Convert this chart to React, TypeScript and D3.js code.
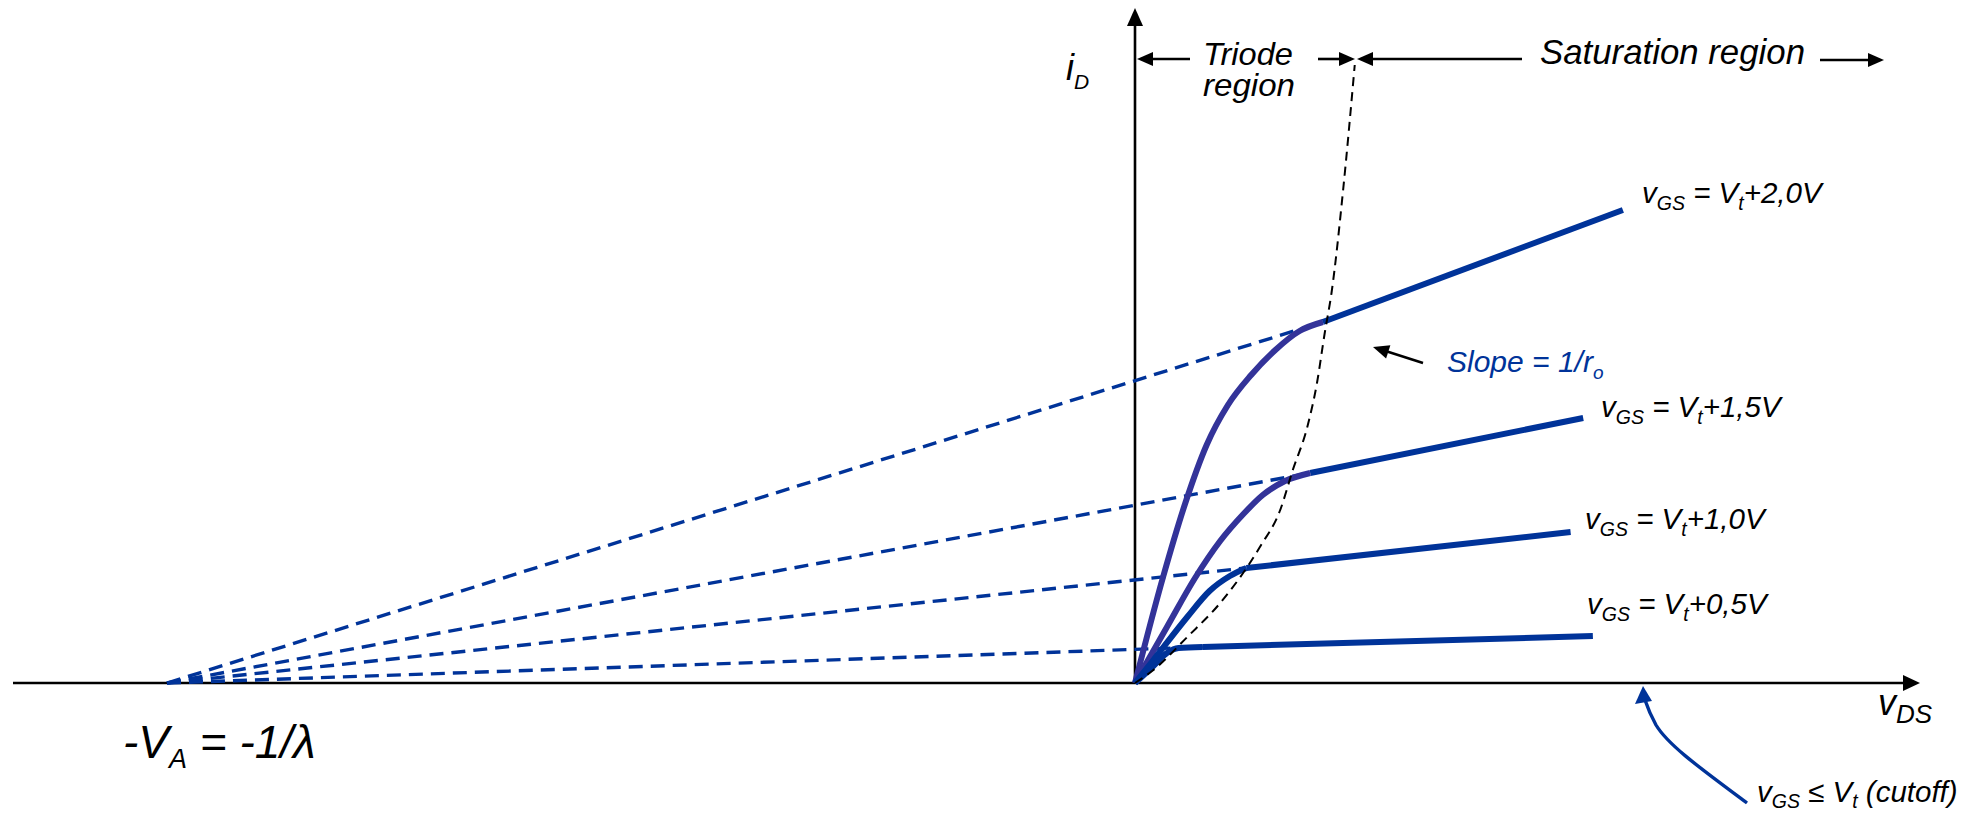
import React from "react";
import * as d3 from "d3";

// Early voltage (the extrapolated saturation lines meet the v_DS axis at -V_A)
const VA = 10;

// Overdrive labels for the four gate voltages, top curve first
const overdriveLabels = ["2,0", "1,5", "1,0", "0,5"];

// Triode-region traces (v_DS, i_D); each ends at its knee where saturation starts
const triode20: [number, number][] = [[0, 0], [0.29, 1.06], [0.52, 1.8], [0.74, 2.38], [0.96, 2.78], [1.2, 3.08], [1.45, 3.33], [1.7, 3.52], [1.94, 3.61]];
const triode15: [number, number][] = [[0, 0], [0.33, 0.56], [0.62, 1.05], [0.88, 1.42], [1.12, 1.69], [1.32, 1.88], [1.55, 2.02], [1.81, 2.1]];
const triode10: [number, number][] = [[0, 0], [0.19, 0.23], [0.54, 0.66], [0.77, 0.92], [0.98, 1.07], [1.15, 1.15]];
const triode05: [number, number][] = [[0, 0], [0.19, 0.17], [0.33, 0.3], [0.45, 0.35], [0.7, 0.36]];

// Right-hand end of each saturation line (v_DS, i_D)
const saturationEnds: [number, number][] = [[5.04, 4.73], [4.63, 2.65], [4.5, 1.51], [4.73, 0.47]];

// Boundary v_DS = v_OV between triode and saturation
const edgeOfSaturation: [number, number][] = [[0, 0], [0.19, 0.13], [0.54, 0.46], [0.88, 0.8], [1.29, 1.36], [1.5, 1.73], [1.63, 2.13], [1.78, 2.56], [1.88, 3.0], [1.96, 3.5], [2.03, 3.9], [2.15, 4.93], [2.27, 6.18]];

const triodeCurves = [triode20, triode15, triode10, triode05];

const BLUE = "#003399";
const PURPLE = "#333399";
const triodeColors = [PURPLE, PURPLE, BLUE, BLUE];
const FONT = "'Liberation Sans', Arial, Helvetica, sans-serif";

// label anchor (x, baseline) per curve, top curve first
const labelPos = [[1642, 203], [1601, 417], [1585, 529], [1587, 614]];

const x = d3.scaleLinear().domain([-VA, 0]).range([167, 1135]);
const y = d3.scaleLinear().domain([0, 1]).range([683, 583]);

const smooth = d3
  .line<[number, number]>()
  .x((d) => x(d[0]))
  .y((d) => y(d[1]))
  .curve(d3.curveMonotoneX);

const straight = d3
  .line<[number, number]>()
  .x((d) => x(d[0]))
  .y((d) => y(d[1]));

function Arrow({ x1, y1, x2, y2, color = "#000", width = 2.6, head = 16, half = 7 }: any) {
  const ang = Math.atan2(y2 - y1, x2 - x1);
  const bx = x2 - head * Math.cos(ang);
  const by = y2 - head * Math.sin(ang);
  const px = -Math.sin(ang) * half;
  const py = Math.cos(ang) * half;
  return (
    <g>
      <line x1={x1} y1={y1} x2={bx + 2 * Math.cos(ang)} y2={by + 2 * Math.sin(ang)} stroke={color} strokeWidth={width} />
      <polygon points={`${x2},${y2} ${bx + px},${by + py} ${bx - px},${by - py}`} fill={color} />
    </g>
  );
}

export default function App() {
  const origin = { x: x(0), y: y(0) };
  return (
    <svg
      width={1986}
      height={813}
      style={{ position: "absolute", left: 0, top: 0, background: "#fff" }}
      fontFamily={FONT}
      fontStyle="italic"
    >
      {/* axes */}
      <line x1={13} y1={origin.y} x2={1905} y2={origin.y} stroke="#000" strokeWidth={2.6} />
      <polygon points={`1920,${origin.y} 1903,${origin.y - 8} 1903,${origin.y + 8}`} fill="#000" />
      <line x1={origin.x} y1={origin.y} x2={origin.x} y2={22} stroke="#000" strokeWidth={2.6} />
      <polygon points={`${origin.x},8 ${origin.x - 8},26 ${origin.x + 8},26`} fill="#000" />

      {/* extrapolated saturation lines back to -V_A */}
      {triodeCurves.map((c, i) => (
        <path
          key={`ext${i}`}
          d={straight([[-VA, 0], c[c.length - 1]]) || ""}
          fill="none"
          stroke={BLUE}
          strokeWidth={3.4}
          strokeDasharray="14 8"
        />
      ))}

      {/* saturation lines */}
      {triodeCurves.map((c, i) => (
        <path
          key={`sat${i}`}
          d={straight([c[c.length - 1], saturationEnds[i]]) || ""}
          fill="none"
          stroke={BLUE}
          strokeWidth={6}
        />
      ))}

      {/* triode curves */}
      {triodeCurves.map((c, i) => (
        <path
          key={`tri${i}`}
          d={smooth(c) || ""}
          fill="none"
          stroke={triodeColors[i]}
          strokeWidth={6}
          strokeLinejoin="round"
        />
      ))}

      {/* triode / saturation boundary */}
      <path d={smooth(edgeOfSaturation) || ""} fill="none" stroke="#000" strokeWidth={2} strokeDasharray="9 6" />

      {/* region annotations */}
      <Arrow x1={1190} y1={59} x2={1137} y2={59} />
      <Arrow x1={1318} y1={59} x2={1355} y2={59} />
      <Arrow x1={1522} y1={59} x2={1357} y2={59} />
      <Arrow x1={1820} y1={60} x2={1884} y2={60} />
      <text x={1203} y={65} fontSize={32} textLength={90} lengthAdjust="spacingAndGlyphs">Triode</text>
      <text x={1203} y={96} fontSize={32} textLength={92} lengthAdjust="spacingAndGlyphs">region</text>
      <text x={1540} y={64} fontSize={35} textLength={265} lengthAdjust="spacingAndGlyphs">Saturation region</text>

      {/* axis labels */}
      <text x={1066} y={80} fontSize={36}>
        i<tspan fontSize={21} dy={9}>D</tspan>
      </text>
      <text x={1878} y={715} fontSize={36}>
        v<tspan fontSize={26} dy={8}>DS</tspan>
      </text>
      <text x={123} y={758} fontSize={46}>
        -V<tspan fontSize={27} dy={10}>A</tspan>
        <tspan dy={-10}> = -1/λ</tspan>
      </text>

      {/* gate-voltage labels */}
      {overdriveLabels.map((lbl, i) => (
        <text key={`lbl${i}`} x={labelPos[i][0]} y={labelPos[i][1]} fontSize={29.5} fill="#000">
          v<tspan fontSize={19.5} dy={7}>GS</tspan>
          <tspan dy={-7}> = V</tspan>
          <tspan fontSize={19.5} dy={7}>t</tspan>
          <tspan dy={-7}>+{lbl}V</tspan>
        </text>
      ))}

      {/* output resistance note */}
      <Arrow x1={1423} y1={363} x2={1373} y2={347} />
      <text x={1447} y={372} fontSize={30} fill={BLUE}>
        Slope = 1/r<tspan fontSize={19} dy={7}>o</tspan>
      </text>

      {/* cutoff note */}
      <path d="M1747,803 C1700,768 1668,745 1656,725 C1650,714 1647,706 1645,700" fill="none" stroke={BLUE} strokeWidth={3.4} />
      <polygon points="1643,686 1635,704 1652,701" fill={BLUE} />
      <text x={1757} y={802} fontSize={29.5}>
        v<tspan fontSize={19.5} dy={6}>GS</tspan>
        <tspan dy={-6}> ≤ V</tspan>
        <tspan fontSize={19.5} dy={6}>t</tspan>
        <tspan dy={-6}>  (cutoff)</tspan>
      </text>
    </svg>
  );
}
